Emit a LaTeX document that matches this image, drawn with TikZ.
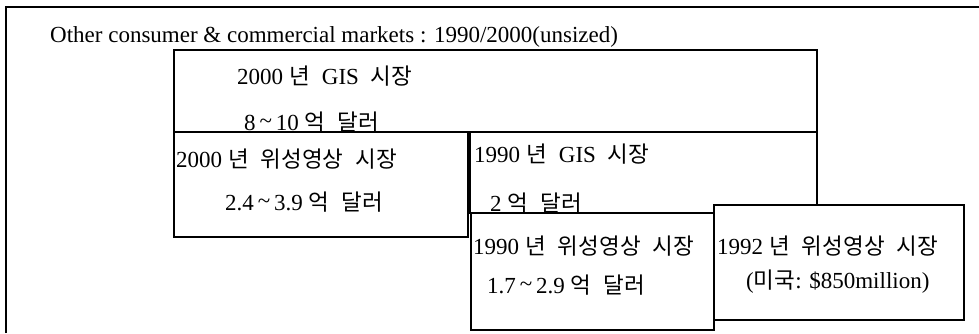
\documentclass[tikz,border=0pt]{standalone}
\usepackage{fontspec}
\setmainfont{Liberation Serif}
\newfontfamily\kor{Noto Sans CJK KR}
\newcommand{\ko}[1]{{\kor\fontsize{22.5}{25}\selectfont #1}}
\newcommand{\tl}{\raisebox{2pt}{\textasciitilde}}
\newcommand{\widesp}{\spaceskip 12pt\relax}
\begin{document}
\begin{tikzpicture}[x=1pt,y=-1pt,
  frame/.style={draw=black,line width=1.2pt},
  boxline/.style={draw=black,line width=1.2pt},
  titletxt/.style={anchor=base west,inner sep=0pt,font=\fontsize{23}{26}\selectfont},
  txt/.style={anchor=base west,inner sep=0pt,font=\fontsize{23}{26}\selectfont\widesp}]
\useasboundingbox (0,0) rectangle (979,333);
% outer frame (only top and left visible)
\coordinate (fb) at (6,333);
\coordinate (ftl) at (6,7);
\coordinate (ftr) at (979,7);
\draw[frame] (fb) -- (ftl) -- (ftr);
% boxes
\draw[boxline] (174,50) rectangle (817,132);
\draw[boxline] (470,132) rectangle (817,213);
\draw[boxline] (174,132) rectangle (468,237);
\draw[boxline] (471,213) rectangle (714,330);
\draw[boxline,fill=white] (714,205) rectangle (964,320);
% texts
\node[titletxt] (title) at (50,42) {Other consumer \& commercial markets : 1990/2000(unsized)};
\node[txt] (g2000) at (237,84) {2000\hspace{6pt}\ko{년} GIS \ko{시장}};
\node[txt] (g2000v) at (244,130) {8\,\tl\,10\hspace{6pt}\ko{억} \ko{달러}};
\node[txt] (s2000) at (176,167) {2000\hspace{6pt}\ko{년} \ko{위성영상} \ko{시장}};
\node[txt] (s2000v) at (225,210) {2.4\,\tl\,3.9\hspace{6pt}\ko{억} \ko{달러}};
\node[txt] (g1990) at (474,162) {1990\hspace{6pt}\ko{년} GIS \ko{시장}};
\node[txt] (g1990v) at (490,211) {2\hspace{6pt}\ko{억} \ko{달러}};
\node[txt] (s1990) at (473,254) {1990\hspace{6pt}\ko{년} \ko{위성영상} \ko{시장}};
\node[txt] (s1990v) at (487,293) {1.7\,\tl\,2.9\hspace{6pt}\ko{억} \ko{달러}};
\node[txt] (s1992) at (717,254) {1992\hspace{6pt}\ko{년} \ko{위성영상} \ko{시장}};
\node[titletxt] (s1992v) at (746,288) {(\ko{미국}: \$850million)};
\end{tikzpicture}
\end{document}
